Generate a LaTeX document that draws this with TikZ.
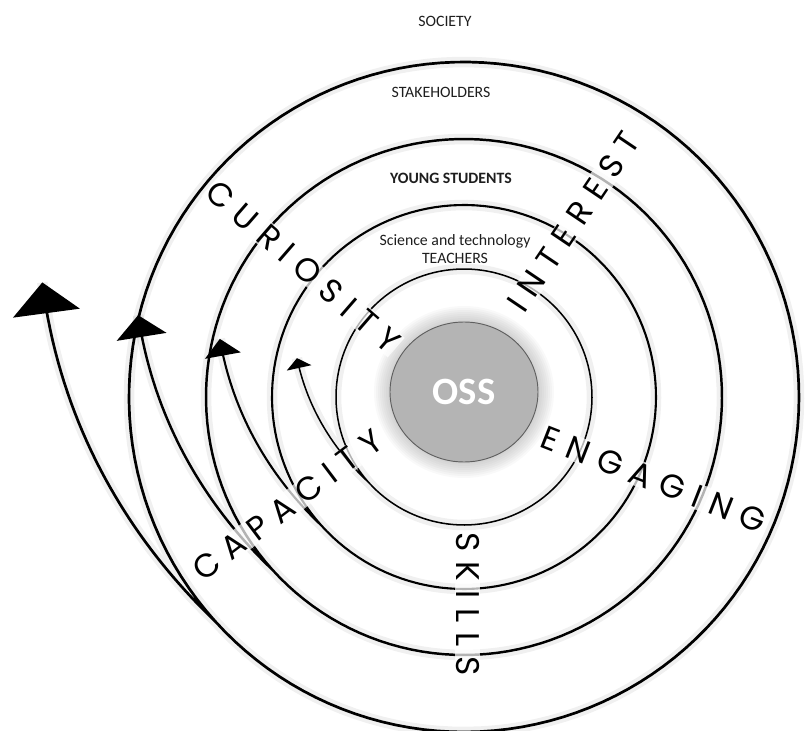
\documentclass[tikz,border=0pt]{standalone}
\usepackage{fontspec}
\setmainfont{Carlito}
\newfontfamily\wordfont[LetterSpace=30]{Poppins}
\usepackage{tikz}
\usetikzlibrary{arrows.meta, shapes.geometric}
\definecolor{ossfill}{RGB}{180, 180, 180}
\definecolor{ossedge}{RGB}{95, 95, 95}
\definecolor{labeltext}{RGB}{30, 30, 30}

\tikzset{
  ring/.style={draw=black, line cap=round,
    preaction={draw=black, draw opacity=0.06, line width=9pt, arrows=-}},
  word/.style={font=\wordfont\fontsize{28}{30}\selectfont, fill=white, fill opacity=0.7, text opacity=1, inner sep=1pt},
  level/.style={font=\fontsize{13.5}{15.5}\selectfont, text=labeltext, align=center},
  boldlevel/.style={level, font=\fontsize{13.5}{15.5}\selectfont\bfseries},
}

\begin{document}
\begin{tikzpicture}[x=0.3mm, y=0.3mm]

  \useasboundingbox (-464, -334) rectangle (341, 397);

  % rings that open into arrows: radius / arrow radius / end angle / width / tip
  \foreach \r/\R/\e/\w/\tl/\tw in {128/171.5/-193.1/1.3pt/3mm/7.5mm,
                                   192/251/-193.4/1.8pt/5.1mm/10.8mm,
                                   258/336/-194.1/2.1pt/6.6mm/15mm,
                                   335/437/-195.2/2.3pt/9.3mm/20.1mm} {
    \draw[ring, line width=\w, -{Triangle[length=\tl, width=\tw]}]
      plot[domain=222:-138, samples=150] (\x:\r)
      -- plot[domain=-138:\e, samples=40]
         (\x:{\r + (\R-\r)*(0.25*(-138-\x)/(-138-\e) + 0.75*((-138-\x)/(-138-\e))^2)});
  }

  % soft shadow round the core
  \foreach \i in {0, 1, ..., 8} {
    \fill[black, opacity=0.025] (0, 5) ellipse ({74 + 2*\i} and {70 + 2*\i});
  }
  \node[ellipse, fill=ossfill, draw=ossedge, line width=0.8pt, inner sep=0pt,
        minimum width=44.4mm, minimum height=42mm, text=white,
        font=\bfseries\fontsize{33}{33}\selectfont] (oss) at (0, 5) {OSS};

  \foreach \ang/\rot/\txt in {141/-41/CURIOSITY, 58/56/INTEREST, -23.5/-21.4/ENGAGING,
                              -89/-90/SKILLS, 211.5/37/CAPACITY} {
    \node[word, rotate=\rot] (w\txt) at (\ang:207) {\txt};
  }

  \node[level] (society) at (-19, 376) {SOCIETY};
  \node[level] (stakeholders) at (-23, 305) {STAKEHOLDERS};
  \node[boldlevel] (students) at (-13, 219) {YOUNG STUDENTS};
  \node[level] (teachers) at (-9, 148) {Science and technology\\TEACHERS};

\end{tikzpicture}
\end{document}
